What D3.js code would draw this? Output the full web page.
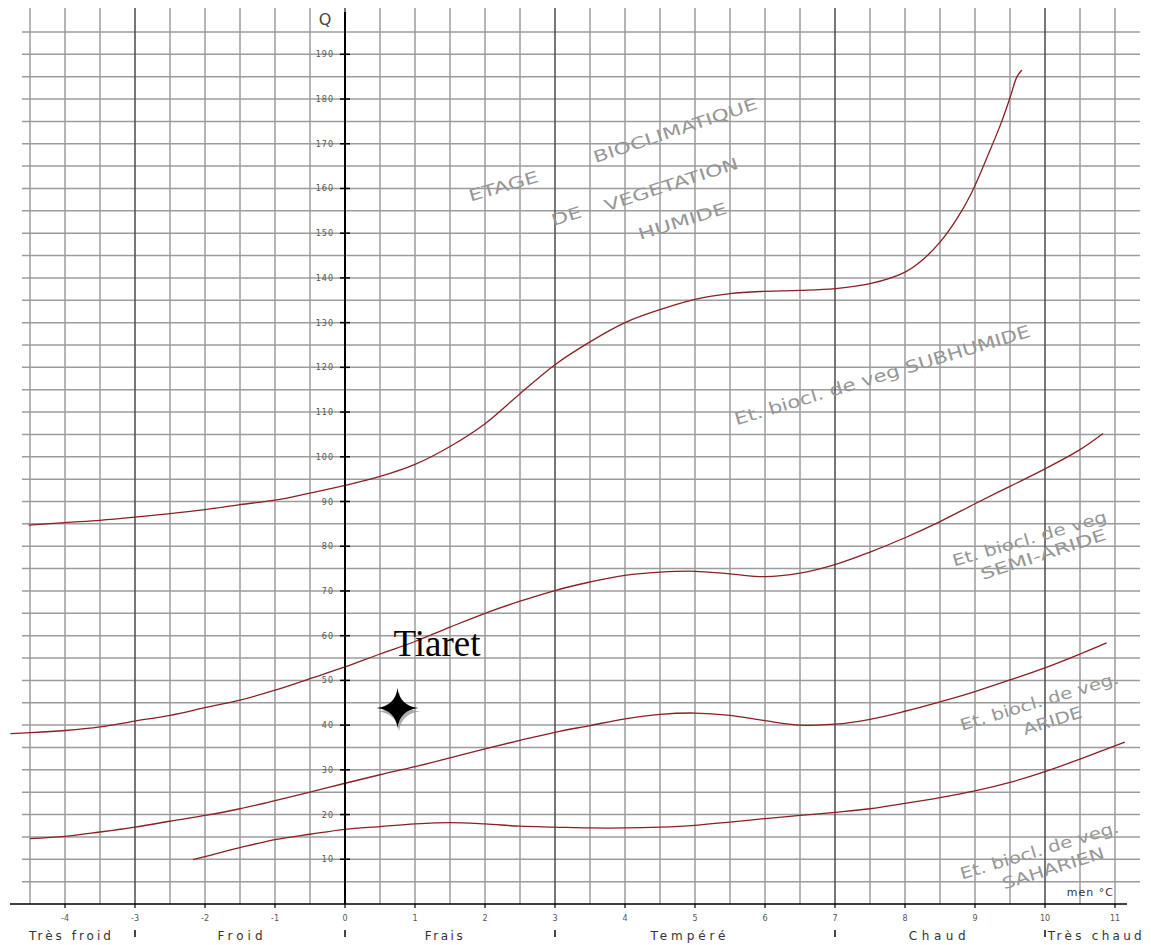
<!DOCTYPE html>
<html><head><meta charset="utf-8">
<script src="https://cdn.jsdelivr.net/npm/d3@7"></script>
<style>body{margin:0;background:#fff;} svg{display:block;}</style>
</head><body>
<svg id="chart" width="1151" height="945"></svg>
<script>
// ---------- DATA ----------
// Limit Humide / Subhumide
const humideT = [-4.52,-4,-3.5,-3,-2.5,-2,-1.5,-1,-0.5,0,0.5,1,1.5,2,2.5,3,3.5,4,4.5,5,5.5,6,6.5,7,7.5,8,8.27,8.5,8.74,8.95,9.2,9.37,9.5,9.6,9.67];
const humideQ = [84.7,85.3,85.8,86.5,87.3,88.2,89.3,90.3,91.9,93.6,95.6,98.3,102.3,107.4,114.1,120.6,125.7,130.0,132.9,135.2,136.5,137.0,137.2,137.6,138.7,141.3,144.3,148.0,153.2,159.0,168.0,174.5,180.3,185.0,186.5];
// Limit Subhumide / Semi-aride
const subhumT = [-4.78,-4.5,-4,-3.5,-3,-2.5,-2,-1.5,-1,-0.5,0,0.5,1,1.5,2,2.5,3,3.5,4,4.5,5,5.5,6,6.5,7,7.5,8,8.5,9,9.5,10,10.5,10.83];
const subhumQ = [38.1,38.3,38.8,39.6,40.9,42.2,43.9,45.6,47.8,50.4,53.0,55.9,58.7,61.9,65.0,67.7,70.1,72.0,73.5,74.2,74.4,73.8,73.2,74.0,75.9,78.7,81.9,85.5,89.5,93.4,97.3,101.6,105.2];
// Limit Semi-aride / Aride
const semiT = [-4.5,-4,-3.5,-3,-2.5,-2,-1.5,-1,-0.5,0,0.5,1,1.5,2,2.5,3,3.5,4,4.5,5,5.5,6,6.5,7,7.5,8,8.5,9,9.5,10,10.5,10.88];
const semiQ = [14.6,15.1,16.1,17.2,18.5,19.8,21.3,23.1,25.0,27.0,28.9,30.7,32.7,34.7,36.6,38.4,39.9,41.4,42.4,42.7,42.2,41.0,40.0,40.2,41.3,43.1,45.2,47.5,50.1,52.8,55.9,58.4];
// Limit Aride / Saharien
const arideT = [-2.17,-2,-1.5,-1,-0.5,0,0.5,1,1.5,2,2.5,3,3.5,4,4.5,5,5.5,6,6.5,7,7.5,8,8.5,9,9.5,10,10.5,11.14];
const arideQ = [9.9,10.6,12.6,14.4,15.6,16.7,17.3,17.9,18.2,17.9,17.4,17.2,17.0,17.0,17.2,17.6,18.3,19.1,19.8,20.5,21.3,22.5,23.8,25.3,27.2,29.6,32.4,36.2];

const xTickValues = [-4,-3,-2,-1,0,1,2,3,4,5,6,7,8,9,10,11];
const yTickValues = [10,20,30,40,50,60,70,80,90,100,110,120,130,140,150,160,170,180,190];
const zoneNames = ["Très froid","Froid","Frais","Tempéré","Chaud","Très chaud"];
const zoneCenters = [-3.93,-1.5,1.41,4.9,8.46,10.71];
const zoneBounds = [-3,0,3,7,10];
const stationName = "Tiaret";
const stationM = 0.75;
const stationQ = 43.8;

// zone annotations: text, m, Q (data position of baseline centre)
const annoText = ["ETAGE","BIOCLIMATIQUE","DE","VEGETATION","HUMIDE",
  "Et. biocl. de veg SUBHUMIDE","Et. biocl. de veg","SEMI-ARIDE",
  "Et. biocl. de veg.","ARIDE","Et. biocl. de veg.","SAHARIEN"];
const annoM = [2.286,4.743,3.186,4.686,4.843,7.70,9.80,10.0,9.943,10.13,9.943,10.14];
const annoQ = [159.3,171.8,152.6,159.7,151.5,117.0,80.5,77.0,44.1,39.8,10.8,6.8];

// ---------- LAYOUT / STYLE ----------
const annoLen = [72,172,31,140,92,308,160,131,165,61,165,106];
const annoRot = [-16,-18.5,-17,-18,-17,-16.8,-16.4,-18,-16.8,-17.4,-16.8,-17.4];
const annoSize = [16,16,16,16,16,17,16,16,16,16,16,16];
const zoneLen = [82,45,38,75,57,94];

const svg = d3.select("#chart");
const x = d3.scaleLinear().domain([0,11]).range([345,1115]);
const y = d3.scaleLinear().domain([0,190]).range([904,54.3]);

svg.append("rect").attr("width",1151).attr("height",945).attr("fill","#fff");

// grid
const g = svg.append("g");
const vGrid = d3.range(-4.5, 11.01, 0.5);
const hGrid = d3.range(5, 195.1, 5);
g.selectAll(".hg").data(hGrid).enter().append("line")
  .attr("x1",22).attr("x2",1140)
  .attr("y1",d=>y(d)).attr("y2",d=>y(d))
  .attr("stroke","#9c9c9c").attr("stroke-width",1.5);
g.selectAll(".vg").data(vGrid).enter().append("line")
  .attr("x1",d=>x(d)).attr("x2",d=>x(d))
  .attr("y1",8).attr("y2",y(0))
  .attr("stroke",d=>zoneBounds.includes(d)?"#555":"#9c9c9c")
  .attr("stroke-width",d=>zoneBounds.includes(d)?1.6:1.5);

// annotations
const annoData = annoText.map((t,i)=>({t, m:annoM[i], q:annoQ[i], len:annoLen[i], rot:annoRot[i], size:annoSize[i]}));
svg.selectAll(".anno").data(annoData).enter().append("text")
  .attr("transform",d=>`translate(${x(d.m)},${y(d.q)}) rotate(${d.rot})`)
  .attr("text-anchor","middle")
  .attr("font-family","DejaVu Sans, sans-serif")
  .attr("font-size",d=>d.size)
  .attr("fill","#969696")
  .attr("textLength",d=>d.len)
  .attr("lengthAdjust","spacingAndGlyphs")
  .text(d=>d.t);

// curves
const line = d3.line().x(d=>x(d[0])).y(d=>y(d[1])).curve(d3.curveCatmullRom.alpha(0.5));
const curves = [[humideT,humideQ],[subhumT,subhumQ],[semiT,semiQ],[arideT,arideQ]];
curves.forEach(([T,Q])=>{
  svg.append("path").datum(T.map((t,i)=>[t,Q[i]]))
    .attr("d",line).attr("fill","none")
    .attr("stroke","#8a1f24").attr("stroke-width",1.3);
});

// Y axis
svg.append("line").attr("x1",x(0)).attr("x2",x(0)).attr("y1",12).attr("y2",y(0))
  .attr("stroke","#000").attr("stroke-width",2);
svg.selectAll(".yt").data(yTickValues).enter().append("line")
  .attr("x1",x(0)-5).attr("x2",x(0)+5).attr("y1",d=>y(d)).attr("y2",d=>y(d))
  .attr("stroke","#000").attr("stroke-width",1.5);
svg.selectAll(".yl").data(yTickValues).enter().append("text")
  .attr("x",x(0)-11).attr("y",d=>y(d)+3)
  .attr("text-anchor","end").attr("font-family","DejaVu Sans, sans-serif")
  .attr("font-size",8).attr("letter-spacing",1).attr("fill","#555")
  .text(d=>d);
svg.append("text").attr("x",x(0)-20).attr("y",25).attr("text-anchor","middle")
  .attr("font-family","DejaVu Sans, sans-serif").attr("font-size",16).attr("fill","#444").text("Q");

// X axis
svg.append("line").attr("x1",10).attr("x2",1127).attr("y1",y(0)).attr("y2",y(0))
  .attr("stroke","#000").attr("stroke-width",1.6);
svg.selectAll(".xt").data(xTickValues).enter().append("line")
  .attr("x1",d=>x(d)).attr("x2",d=>x(d)).attr("y1",y(0)).attr("y2",y(0)+4)
  .attr("stroke","#000").attr("stroke-width",1.2);
svg.selectAll(".xl").data(xTickValues).enter().append("text")
  .attr("x",d=>x(d)).attr("y",y(0)+17)
  .attr("text-anchor","middle").attr("font-family","DejaVu Sans, sans-serif")
  .attr("font-size",8).attr("fill","#555")
  .text(d=>d);
svg.append("text").attr("x",1114).attr("y",y(0)-8).attr("text-anchor","end")
  .attr("font-family","DejaVu Sans, sans-serif").attr("font-size",11).attr("fill","#333")
  .attr("letter-spacing",1).text("men °C");

// zone separators and labels
svg.selectAll(".zs").data(zoneBounds).enter().append("line")
  .attr("x1",d=>x(d)).attr("x2",d=>x(d)).attr("y1",930).attr("y2",937)
  .attr("stroke","#333").attr("stroke-width",1.8);
svg.selectAll(".zl").data(zoneNames.map((n,i)=>({n,c:zoneCenters[i],len:zoneLen[i]}))).enter().append("text")
  .attr("x",d=>x(d.c)).attr("y",940).attr("text-anchor","middle")
  .attr("font-family","DejaVu Sans, sans-serif").attr("font-size",12).attr("fill","#333")
  .attr("textLength",d=>d.len).attr("lengthAdjust","spacing")
  .text(d=>d.n);

// station marker
const Rh = 21, Rv = 20, c = 2.2;
const star = `M0,${-Rv} Q${c},${-c} ${Rh},0 Q${c},${c} 0,${Rv} Q${-c},${c} ${-Rh},0 Q${-c},${-c} 0,${-Rv} Z`;
const sx = x(stationM), sy = y(stationQ);
svg.append("path").attr("d",star).attr("transform",`translate(${sx+1.5},${sy+3.5})`)
  .attr("fill","#9a9a9a").attr("opacity",0.8);
svg.append("path").attr("d",star).attr("transform",`translate(${sx},${sy})`).attr("fill","#000");
svg.append("text").attr("x",sx-4).attr("y",sy-52)
  .attr("font-family","Liberation Serif, Times New Roman, serif").attr("font-size",37).attr("fill","#000")
  .text(stationName);
</script>
</body></html>
